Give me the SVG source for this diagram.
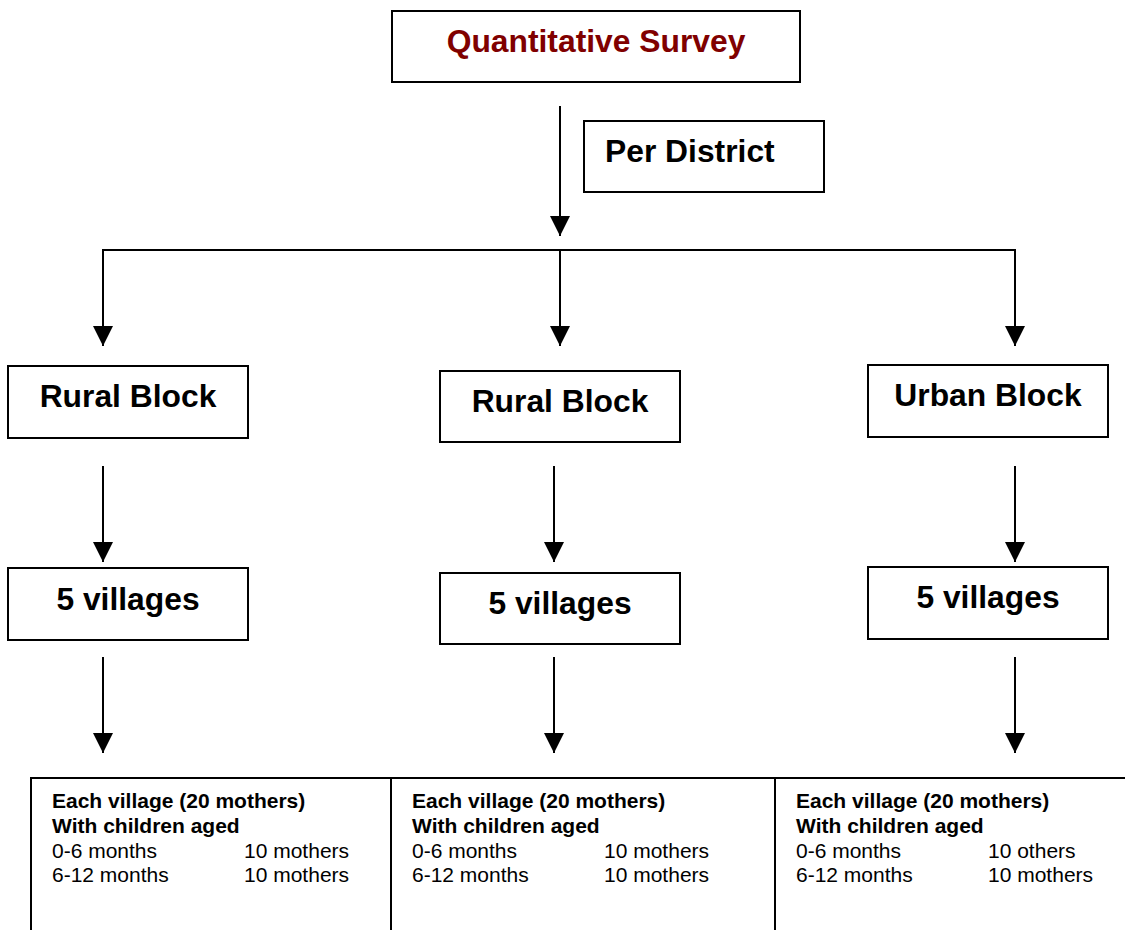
<svg xmlns="http://www.w3.org/2000/svg" width="1125" height="930" viewBox="0 0 1125 930">
<style>
.box{fill:#fff;stroke:#000;stroke-width:2}
.ln{fill:none;stroke:#000;stroke-width:2}
.h{font-family:"Liberation Sans",Arial,sans-serif;font-weight:bold;font-size:31.8px;fill:#000}
.t{font-family:"Liberation Sans",Arial,sans-serif;font-weight:bold;font-size:31.8px;fill:#800000}
.sb{font-family:"Liberation Sans",Arial,sans-serif;font-weight:bold;font-size:21px;fill:#000}
.sr{font-family:"Liberation Sans",Arial,sans-serif;font-size:21px;fill:#000}
</style>
<defs>
<marker id="ah" viewBox="0 0 20 20" refX="20" refY="10" markerWidth="20" markerHeight="20" markerUnits="userSpaceOnUse" orient="auto">
<path d="M0,0 L20,10 L0,20 Z" fill="#000"/>
</marker>
</defs>
<rect width="1125" height="930" fill="#fff"/>
<g id="connectors">
<line class="ln" x1="560" y1="106" x2="560" y2="236" marker-end="url(#ah)"/>
<line class="ln" x1="103" y1="250" x2="1015" y2="250"/>
<line class="ln" x1="103" y1="249" x2="103" y2="346" marker-end="url(#ah)"/>
<line class="ln" x1="560" y1="250" x2="560" y2="346" marker-end="url(#ah)"/>
<line class="ln" x1="1015" y1="249" x2="1015" y2="346" marker-end="url(#ah)"/>
<line class="ln" x1="103" y1="466" x2="103" y2="562" marker-end="url(#ah)"/>
<line class="ln" x1="554" y1="466" x2="554" y2="562" marker-end="url(#ah)"/>
<line class="ln" x1="1015" y1="466" x2="1015" y2="562" marker-end="url(#ah)"/>
<line class="ln" x1="103" y1="657" x2="103" y2="753" marker-end="url(#ah)"/>
<line class="ln" x1="554" y1="657" x2="554" y2="753" marker-end="url(#ah)"/>
<line class="ln" x1="1015" y1="657" x2="1015" y2="753" marker-end="url(#ah)"/>
</g>
<g id="quantitative-survey">
<rect class="box" x="392" y="11" width="408" height="71"/>
<text class="t" x="596" y="52" text-anchor="middle">Quantitative Survey</text>
</g>
<g id="per-district">
<rect class="box" x="584" y="121" width="240" height="71"/>
<text class="h" x="605" y="162">Per District</text>
</g>
<g id="rural-block-1">
<rect class="box" x="8" y="366" width="240" height="72"/>
<text class="h" x="128" y="407" text-anchor="middle">Rural Block</text>
</g>
<g id="rural-block-2">
<rect class="box" x="440" y="371" width="240" height="71"/>
<text class="h" x="560" y="412" text-anchor="middle">Rural Block</text>
</g>
<g id="urban-block">
<rect class="box" x="868" y="365" width="240" height="72"/>
<text class="h" x="988" y="406" text-anchor="middle">Urban Block</text>
</g>
<g id="villages-1">
<rect class="box" x="8" y="568" width="240" height="72"/>
<text class="h" x="128" y="610" text-anchor="middle">5 villages</text>
</g>
<g id="villages-2">
<rect class="box" x="440" y="573" width="240" height="71"/>
<text class="h" x="560" y="614" text-anchor="middle">5 villages</text>
</g>
<g id="villages-3">
<rect class="box" x="868" y="567" width="240" height="72"/>
<text class="h" x="988" y="608" text-anchor="middle">5 villages</text>
</g>
<g id="mothers-1">
<path class="ln" d="M31,935 V778 H391 V935"/>
<text class="sb" x="52" y="808">Each village (20 mothers)</text>
<text class="sb" x="52" y="833">With children aged</text>
<text class="sr" x="52" y="858">0-6 months</text>
<text class="sr" x="244" y="858">10 mothers</text>
<text class="sr" x="52" y="882">6-12 months</text>
<text class="sr" x="244" y="882">10 mothers</text>
</g>
<g id="mothers-2">
<path class="ln" d="M391,778 H775 V935"/>
<text class="sb" x="412" y="808">Each village (20 mothers)</text>
<text class="sb" x="412" y="833">With children aged</text>
<text class="sr" x="412" y="858">0-6 months</text>
<text class="sr" x="604" y="858">10 mothers</text>
<text class="sr" x="412" y="882">6-12 months</text>
<text class="sr" x="604" y="882">10 mothers</text>
</g>
<g id="mothers-3">
<path class="ln" d="M775,778 H1130"/>
<text class="sb" x="796" y="808">Each village (20 mothers)</text>
<text class="sb" x="796" y="833">With children aged</text>
<text class="sr" x="796" y="858">0-6 months</text>
<text class="sr" x="988" y="858">10 others</text>
<text class="sr" x="796" y="882">6-12 months</text>
<text class="sr" x="988" y="882">10 mothers</text>
</g>
</svg>
